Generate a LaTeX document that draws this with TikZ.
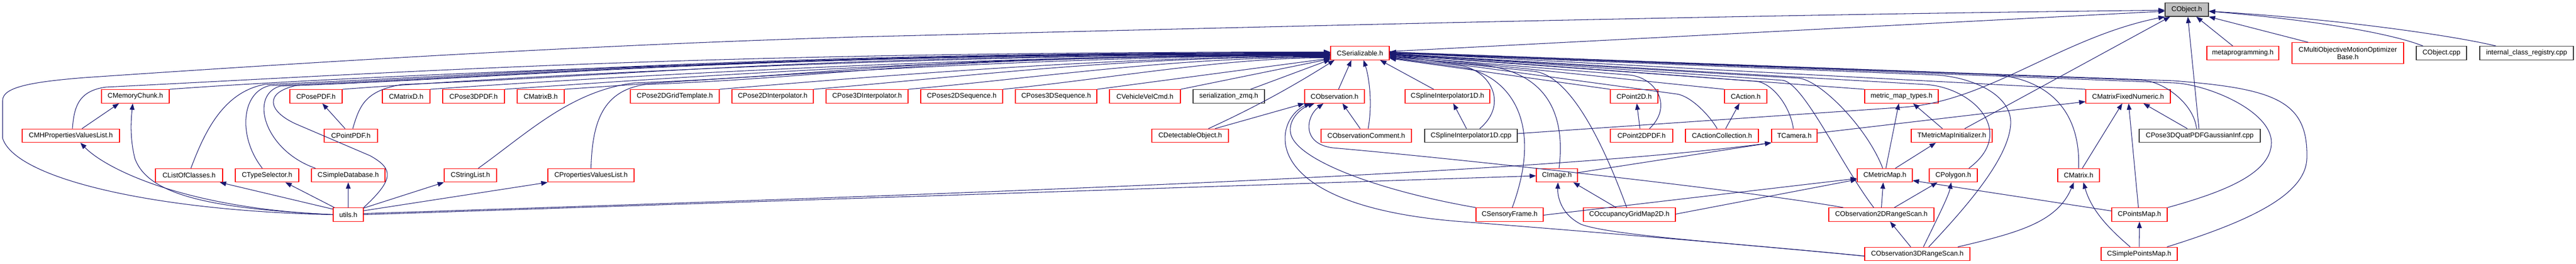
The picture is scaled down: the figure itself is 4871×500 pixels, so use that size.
\documentclass[tikz,border=0pt]{standalone}
\usepackage{fontspec}
\setmainfont{Liberation Sans}
\usetikzlibrary{arrows.meta}
\definecolor{eb}{HTML}{191970}
\definecolor{nr}{HTML}{FF0000}
\begin{document}
\begin{tikzpicture}[x=1pt,y=-1pt,
  nd/.style={draw=nr, line width=1.2pt, fill=white, inner sep=0pt, minimum height=25.6pt, font=\fontsize{13}{14}\selectfont, text=black},
  nb/.style={nd, draw=black!80},
  ng/.style={nd, draw=black!80, fill=black!25},
  ed/.style={draw=eb, line width=1.05pt, -{Triangle[length=12pt,width=9pt]}}]
\useasboundingbox (0,0) rectangle (4871,500);
\fill[white] (0,0) rectangle (4871,500);
% row 0
\node[ng, minimum width=82] (obj) at (4135,18.3) {CObject.h};
% row 1
\node[nd, minimum width=111] (ser) at (2571.5,100.5) {CSerializable.h};
\node[nd, minimum width=136] (meta) at (4241,100.5) {metaprogramming.h};
\node[nd, minimum width=211, minimum height=40, align=center] (cmo) at (4439.5,100.7) {CMultiObjectiveMotionOptimizer\\Base.h};
\node[nb, minimum width=95] (objcpp) at (4616.5,100.5) {CObject.cpp};
\node[nb, minimum width=177] (icr) at (4777.5,100.5) {internal\_class\_registry.cpp};
% row 2
\node[nd, minimum width=128] (cmc) at (256,182.5) {CMemoryChunk.h};
\node[nd, minimum width=99] (ppdf) at (597.5,182.5) {CPosePDF.h};
\node[nd, minimum width=90] (mxd) at (768,182.5) {CMatrixD.h};
\node[nd, minimum width=117] (p3pdf) at (895.5,182.5) {CPose3DPDF.h};
\node[nd, minimum width=89] (mxb) at (1022.5,182.5) {CMatrixB.h};
\node[nd, minimum width=168] (p2grid) at (1276,182.5) {CPose2DGridTemplate.h};
\node[nd, minimum width=154] (p2int) at (1461,182.5) {CPose2DInterpolator.h};
\node[nd, minimum width=155] (p3int) at (1639.5,182.5) {CPose3DInterpolator.h};
\node[nd, minimum width=155] (ps2seq) at (1818.5,182.5) {CPoses2DSequence.h};
\node[nd, minimum width=154] (ps3seq) at (1997,182.5) {CPoses3DSequence.h};
\node[nd, minimum width=134] (vvc) at (2165,182.5) {CVehicleVelCmd.h};
\node[nb, minimum width=135] (zmq) at (2323.5,182.5) {serialization\_zmq.h};
\node[nd, minimum width=113] (cobs) at (2523.5,182.5) {CObservation.h};
\node[nd, minimum width=160] (spl) at (2737,182.5) {CSplineInterpolator1D.h};
\node[nd, minimum width=90] (pt2d) at (3090,182.5) {CPoint2D.h};
\node[nd, minimum width=80] (act) at (3301,182.5) {CAction.h};
\node[nd, minimum width=139] (mmt) at (3595.5,182.5) {metric\_map\_types.h};
\node[nd, minimum width=160] (mfn) at (4024,182.5) {CMatrixFixedNumeric.h};
% row 3
\node[nd, minimum width=184] (mhp) at (134,257) {CMHPropertiesValuesList.h};
\node[nd, minimum width=101] (ptpdf) at (663.5,257) {CPointPDF.h};
\node[nd, minimum width=145] (det) at (2250.5,257) {CDetectableObject.h};
\node[nd, minimum width=171] (obsc) at (2583.5,257) {CObservationComment.h};
\node[nb, minimum width=175] (splcpp) at (2781.5,257) {CSplineInterpolator1D.cpp};
\node[nd, minimum width=118] (pt2pdf) at (3104,257) {CPoint2DPDF.h};
\node[nd, minimum width=138] (actc) at (3256,257) {CActionCollection.h};
\node[nd, minimum width=86] (tcam) at (3393,257) {TCamera.h};
\node[nd, minimum width=153] (tmi) at (3690.5,257) {TMetricMapInitializer.h};
\node[nb, minimum width=229] (qpdf) at (4159.5,257) {CPose3DQuatPDFGaussianInf.cpp};
% row 4
\node[nd, minimum width=127] (loc) at (357.5,332) {CListOfClasses.h};
\node[nd, minimum width=120] (tsel) at (505,332) {CTypeSelector.h};
\node[nd, minimum width=139] (sdb) at (658.5,332) {CSimpleDatabase.h};
\node[nd, minimum width=99] (strl) at (889.5,332) {CStringList.h};
\node[nd, minimum width=163] (pvl) at (1117.5,332) {CPropertiesValuesList.h};
\node[nd, minimum width=78] (img) at (2944,332) {CImage.h};
\node[nd, minimum width=104] (mmap) at (3564,332) {CMetricMap.h};
\node[nd, minimum width=91] (poly) at (3693.5,332) {CPolygon.h};
\node[nd, minimum width=79] (mtx) at (3930.5,332) {CMatrix.h};
% row 5
\node[nd, minimum width=57] (utils) at (658.5,406.5) {utils.h};
\node[nd, minimum width=127] (sf) at (2854.5,406.5) {CSensoryFrame.h};
\node[nd, minimum width=174] (ogm) at (3081,406.5) {COccupancyGridMap2D.h};
\node[nd, minimum width=199] (o2d) at (3557.5,406.5) {CObservation2DRangeScan.h};
\node[nd, minimum width=105] (pmap) at (4045.5,406.5) {CPointsMap.h};
% row 6
\node[nd, minimum width=199] (o3d) at (3625.5,481) {CObservation3DRangeScan.h};
\node[nd, minimum width=144] (spm) at (4045,481) {CSimplePointsMap.h};

% ---- edges into CObject.h
\draw[ed] (utils.west) .. controls (300,400) and (30,340) .. (5,262) -- (5,190) .. controls (5,165) and (60,155) .. (160,147) .. controls (600,117) and (1100,86) .. (1620,70) .. controls (2500,48) and (3300,28) .. ([yshift=-1]obj.west);
\draw[ed] ([yshift=3]ser.east) -- ([yshift=-3]obj.west);
\draw[ed] ([yshift=4]splcpp.east) -- (3600,203) .. controls (3760,192) and (3900,70) .. (obj.south west);
\draw[ed] ([xshift=24.5]tmi.north) -- ([xshift=10]obj.south west);
\draw[ed] ([xshift=-1.5]qpdf.north) -- ([xshift=2]obj.south);
\draw[ed] ([xshift=-19]meta.north) -- ([xshift=18]obj.south);
\draw[ed] ([xshift=-75]cmo.north) -- (obj.south east);
\draw[ed] ([xshift=-35]objcpp.north) .. controls (4540,70) and (4420,42) .. ([yshift=-3]obj.east);
\draw[ed] ([xshift=-58]icr.north) .. controls (4660,72) and (4450,38) .. ([yshift=-3]obj.east);

% ---- edges into CSerializable.h from the left
\draw[ed] ([xshift=3]mhp.north) .. controls (140,200) and (150,172) .. (200,165) .. controls +(600,-30) and +(-1200,0) .. ([yshift=2]ser.west);
\draw[ed] (cmc.north east) .. controls +(400,-30) and +(-700,0) .. ([yshift=1]ser.west);
\draw[ed] ([xshift=3.5]loc.north) .. controls (385,255) and (420,175) .. (500,160) .. controls +(500,-20) and +(-1100,0) .. ([yshift=1]ser.west);
\draw[ed] ([xshift=-9]tsel.north) .. controls (450,260) and (455,175) .. (510,162) .. controls +(500,-20) and +(-1100,0) .. (ser.west);
\draw[ed] ([xshift=-62]sdb.north) .. controls (500,285) and (470,180) .. (530,163) .. controls +(500,-20) and +(-1100,0) .. ([yshift=-1]ser.west);
\draw[ed] (utils.north east) .. controls (745,340) and (745,320) .. (700,295) -- (560,235) .. controls (505,210) and (500,175) .. (560,162) .. controls +(500,-20) and +(-1100,0) .. ([yshift=-2]ser.west);
\draw[ed] (ppdf.north east) .. controls +(400,-30) and +(-700,0) .. ([yshift=-2]ser.west);
\draw[ed] ([xshift=3.5]ptpdf.north) .. controls (680,200) and (690,172) .. (760,160) .. controls +(500,-20) and +(-1000,0) .. ([yshift=-3]ser.west);
\draw[ed] (mxd.north east) .. controls +(400,-28) and +(-600,0) .. ([yshift=-3]ser.west);
\draw[ed] (p3pdf.north east) .. controls +(400,-28) and +(-600,0) .. ([yshift=-4]ser.west);
\draw[ed] (mxb.north east) .. controls +(400,-28) and +(-500,0) .. ([yshift=-5]ser.west);
\draw[ed] ([xshift=15]strl.north) .. controls (1000,250) and (1080,172) .. (1200,157) .. controls +(400,-15) and +(-800,0) .. ([yshift=-4]ser.west);
\draw[ed] (pvl.north) .. controls (1120,230) and (1140,172) .. (1220,160) .. controls +(400,-15) and +(-800,0) .. ([yshift=-5]ser.west);
\draw[ed] (p2grid.north east) .. controls +(300,-25) and +(-400,0) .. ([yshift=-6]ser.west);
\draw[ed] (p2int.north east) .. controls +(300,-25) and +(-400,0) .. ([yshift=-7]ser.west);
\draw[ed] (p3int.north east) .. controls +(250,-22) and +(-300,0) .. ([yshift=-8]ser.west);
\draw[ed] (ps2seq.north east) .. controls +(200,-20) and +(-200,0) .. ([yshift=-9]ser.west);
\draw[ed] (ps3seq.north east) -- ([yshift=-10]ser.west);
\draw[ed] (vvc.north east) -- ([yshift=-11]ser.west);
\draw[ed] ([xshift=-27]zmq.north east) -- ([yshift=1]ser.south west);
\draw[ed] ([xshift=34.5]det.north) .. controls (2380,200) and (2450,160) .. ([xshift=8]ser.south west);
\draw[ed] ([xshift=7.5]cobs.north) -- ([xshift=40]ser.south west);
\draw[ed] ([xshift=3.5]obsc.north) .. controls (2595,200) and (2590,150) .. ([xshift=63]ser.south west);
\draw[ed] ([xshift=-26]spl.north) -- ([xshift=-18]ser.south east);

% ---- edges into CSerializable.h from the right
\draw[ed] ([xshift=16.5]splcpp.north) .. controls (2855,195) and (2815,131) .. (2760,124) -- ([yshift=-8]ser.east);
\draw[ed] ([xshift=4]img.north) .. controls (2965,180) and (2890,132) .. (2800,123) -- ([yshift=-7]ser.east);
\draw[ed] ([xshift=5]sf.north) .. controls (2925,215) and (2840,137) .. (2760,127) -- ([yshift=-9]ser.east);
\draw[ed] ([xshift=-5]ogm.north) .. controls (3020,240) and (2960,141) .. (2900,135) -- ([yshift=-6]ser.east);
\draw[ed] (pt2d.north west) -- ([yshift=-10]ser.east);
\draw[ed] ([xshift=15]pt2pdf.north) .. controls (3165,200) and (3130,146) .. (3080,142) -- ([yshift=-5]ser.east);
\draw[ed] ([xshift=-9]actc.north) .. controls (3230,215) and (3195,181) .. (3170,178) -- ([yshift=-4]ser.east);
\draw[ed] (act.north west) -- ([yshift=-3]ser.east);
\draw[ed] ([xshift=-2]tcam.north) .. controls (3385,200) and (3350,156) .. (3320,154) -- ([yshift=-3]ser.east);
\draw[ed] (mmt.north west) -- ([yshift=-2]ser.east);
\draw[ed] ([xshift=-4]mmap.north) .. controls (3530,240) and (3440,150) .. (3400,148) -- ([yshift=-2]ser.east);
\draw[ed] ([xshift=29.5]poly.north) .. controls (3815,250) and (3730,165) .. (3640,160) -- ([yshift=-1]ser.east);
\draw[ed] ([xshift=-14.5]o2d.north) .. controls (3480,310) and (3410,155) .. (3370,152) -- ([yshift=-1]ser.east);
\draw[ed] ([xshift=21.5]o3d.north) .. controls (3720,390) and (3798,300) .. (3802,235) .. controls (3805,180) and (3730,146) .. (3660,142) -- (ser.east);
\draw[ed] (mtx.north) .. controls (3935,190) and (3850,144) .. (3760,141) -- (ser.east);
\draw[ed] (mfn.north west) -- ([yshift=1]ser.east);
\draw[ed] (pmap.north east) .. controls (4200,365) and (4295,330) .. (4295,270) .. controls (4295,210) and (4175,160) .. (4111,157) -- ([yshift=1]ser.east);
\draw[ed] ([xshift=-20]spm.north east) .. controls (4250,420) and (4360,370) .. (4362,300) .. controls (4365,190) and (4300,168) .. (4111,153) -- ([yshift=2]ser.east);
\draw[ed] ([xshift=-6]qpdf.north) .. controls (4148,195) and (4090,153.5) .. (4050,152) -- ([yshift=2]ser.east);

% ---- other edges, left part
\draw[ed] (utils.west) .. controls (400,395) and (280,370) .. (255,300) .. controls (245,260) and (248,225) .. ([xshift=-5]cmc.south);
\draw[ed] (utils.west) .. controls (350,395) and (200,320) .. ([xshift=18]mhp.south);
\draw[ed] ([xshift=21]mhp.north) -- ([xshift=-31]cmc.south);
\draw[ed] ([yshift=-3]utils.north west) -- ([xshift=-6]loc.south east);
\draw[ed] ([xshift=3]utils.north west) -- ([xshift=-26]tsel.south east);
\draw[ed] (utils.north) -- (sdb.south);
\draw[ed] ([yshift=-1]utils.north east) -- (strl.south west);
\draw[ed] ([yshift=-6]utils.north east) -- (pvl.south west);
\draw[ed] ([xshift=-11]ptpdf.north) -- ([xshift=12]ppdf.south);
\draw[ed] (utils.east) -- ([yshift=-1]img.west);
\draw[ed] ([yshift=2]utils.east) .. controls (1800,368) and (2900,330) .. (tcam.south west);
\draw[ed] ([yshift=5]img.east) -- (tcam.south west);

% ---- other edges, right part
\draw[ed] ([xshift=47]det.north) -- (cobs.south west);
\draw[ed] ([xshift=-11.5]obsc.north) -- ([xshift=15]cobs.south);
\draw[ed] ([xshift=-8.5]splcpp.north) -- ([xshift=11]spl.south);
\draw[ed] ([xshift=-3]pt2pdf.north) -- ([xshift=5]pt2d.south);
\draw[ed] ([xshift=7]actc.north) -- ([xshift=-12]act.south);
\draw[ed] ([yshift=5]tcam.east) -- ([yshift=-10]mfn.west);
\draw[ed] ([xshift=-17.5]tmi.north) -- ([xshift=22]mmt.south);
\draw[ed] ([xshift=2]mmap.north) -- ([xshift=-5]mmt.south);
\draw[ed] ([xshift=20]mmap.north) -- ([xshift=-30]tmi.south);
\draw[ed] (sf.north west) .. controls (2600,360) and (2445,300) .. (2440,250) .. controls (2437,225) and (2460,205) .. ([xshift=-38]cobs.south);
\draw[ed] ([yshift=-1]sf.east) -- ([yshift=-6]mmap.west);
\draw[ed] ([yshift=1]ogm.east) -- ([yshift=-8]mmap.west);
\draw[ed] ([xshift=-25]ogm.north) -- ([xshift=31]img.south);
\draw[ed] ([xshift=-72]o2d.north) .. controls (3300,360) and (2750,300) .. (2520,280) .. controls (2460,272) and (2470,220) .. ([xshift=-21]cobs.south);
\draw[ed] (o2d.north) -- ([xshift=-3]mmap.south);
\draw[ed] ([xshift=24.5]o2d.north) -- ([xshift=-30]poly.south);
\draw[ed] ([xshift=-12.5]o3d.north) -- ([xshift=16.5]o2d.south);
\draw[ed] ([xshift=11.5]o3d.north) .. controls (3665,410) and (3685,370) .. ([xshift=-4]poly.south);
\draw[ed] ([xshift=76.5]o3d.north) .. controls (3820,440) and (3890,420) .. ([xshift=-9]mtx.south);
\draw[ed] ([yshift=-4]o3d.west) .. controls (3300,462) and (3050,447) .. (2990,425) .. controls (2950,405) and (2945,370) .. ([xshift=2]img.south);
\draw[ed] ([yshift=-4]o3d.west) .. controls (3300,463) and (2900,430) .. (2766,420) .. controls (2500,400) and (2428,320) .. (2430,260) .. controls (2431,225) and (2455,205) .. ([xshift=-45]cobs.south);
\draw[ed] ([xshift=7]mtx.north) -- ([xshift=-11]mfn.south);
\draw[ed] ([xshift=-2]pmap.north) -- ([xshift=1]mfn.south);
\draw[ed] ([yshift=7]pmap.west) -- ([yshift=-10]mmap.east);
\draw[ed] (spm.north) -- (pmap.south);
\draw[ed] ([xshift=-17]spm.north) .. controls (3990,435) and (3955,400) .. ([xshift=9]mtx.south);
\draw[ed] ([xshift=-23.5]qpdf.north) -- ([xshift=29]mfn.south);
\end{tikzpicture}
\end{document}
